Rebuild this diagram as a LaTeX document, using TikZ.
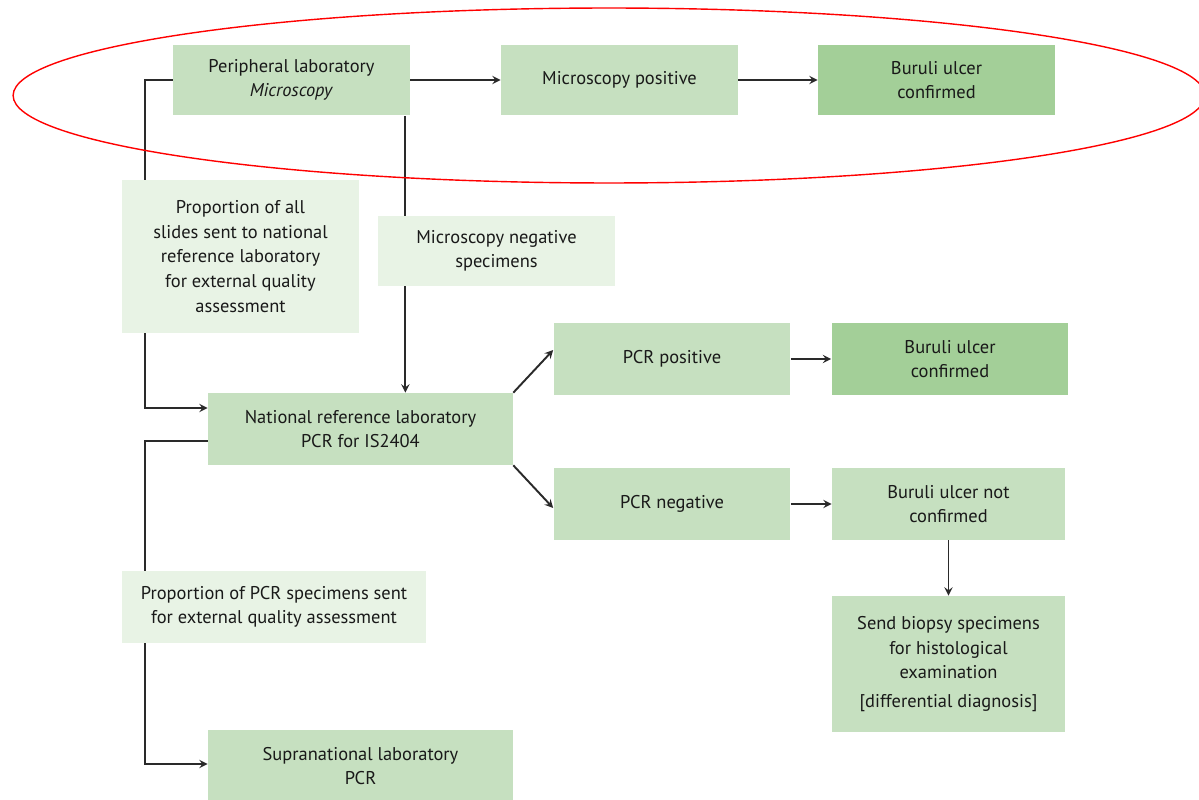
\documentclass[tikz,border=0pt]{standalone}
\usepackage{fontspec}
\setmainfont{PT Sans}
\usetikzlibrary{backgrounds}

\definecolor{labgreen}{HTML}{C6E0C0}
\definecolor{okgreen}{HTML}{A3CF98}
\definecolor{notegreen}{HTML}{E8F3E5}
\definecolor{linegray}{HTML}{2A2A2A}

\begin{document}
\begin{tikzpicture}[
    x=0.02cm, y=-0.02cm,
    lab/.style={rectangle, fill=labgreen, text=black!90, align=center, minimum width=4.74cm, minimum height=1.42cm, font=\fontsize{10.5}{14}\selectfont},
    result/.style={lab, fill=okgreen},
    note/.style={lab, fill=notegreen},
    arrow/.style={->, >=stealth, line width=1.1pt, draw=linegray}
  ]
    \clip (0,0) rectangle (1199,800);

    \node[lab] (periph) at (291.5,80) {Peripheral laboratory\\\textit{Microscopy}};
    \node[lab] (micpos) at (619.5,80) {Microscopy positive};
    \node[result] (bu1) at (936.5,80) {Buruli ulcer\\confirmed};

    \node[note, minimum height=3.06cm] (prop1) at (240.5,256.5) {Proportion of all\\slides sent to national\\reference laboratory\\for external quality\\assessment};
    \node[note] (micneg) at (496.5,251) {Microscopy negative\\specimens};

    \node[lab, minimum width=6.1cm, minimum height=1.44cm] (natl) at (360.5,429) {National reference laboratory\\PCR for IS2404};
    \node[lab, minimum height=1.44cm] (pcrpos) at (672,359) {PCR positive};
    \node[result, minimum height=1.44cm] (bu2) at (950,359) {Buruli ulcer\\confirmed};
    \node[lab, minimum height=1.44cm] (pcrneg) at (672,504) {PCR negative};
    \node[lab, minimum width=4.66cm, minimum height=1.44cm] (bunot) at (948.5,504) {Buruli ulcer not\\confirmed};
    \node[lab, minimum width=4.66cm, minimum height=2.72cm] (biopsy) at (948.5,664) {Send biopsy specimens\\for histological\\examination\\[2pt][differential diagnosis]};

    \node[note, minimum width=6.08cm, minimum height=1.44cm] (prop2) at (274,607) {Proportion of PCR specimens sent\\for external quality assessment};
    \node[lab, minimum width=6.1cm, minimum height=1.44cm] (supra) at (360.5,766) {Supranational laboratory\\PCR};

    \begin{scope}[on background layer]
    \draw[arrow] (periph.west) -- ++(-28,0) |- ([yshift=0.42cm]natl.west);
    \draw[arrow] ([xshift=-0.1cm]periph.south east) -- ([xshift=-0.1cm]periph.south east |- natl.north);
    \draw[arrow] (periph) -- (micpos);
    \draw[arrow] (micpos) -- (bu1);
    \draw[arrow] (natl.north east) -- ([yshift=0.18cm]pcrpos.west);
    \draw[arrow] (natl.south east) -- ([yshift=-0.08cm]pcrneg.west);
    \draw[arrow] (pcrpos) -- (bu2);
    \draw[arrow] (pcrneg) -- (bunot);
    \draw[arrow] (bunot) -- (biopsy);
    \draw[arrow] ([yshift=-0.24cm]natl.west) -- ++(-63,0) |- ([yshift=0.04cm]supra.west);
    \end{scope}

    \draw[red, thick] (609,95.5) ellipse [x radius=11.92cm, y radius=1.75cm];
  \end{tikzpicture}
\end{document}
